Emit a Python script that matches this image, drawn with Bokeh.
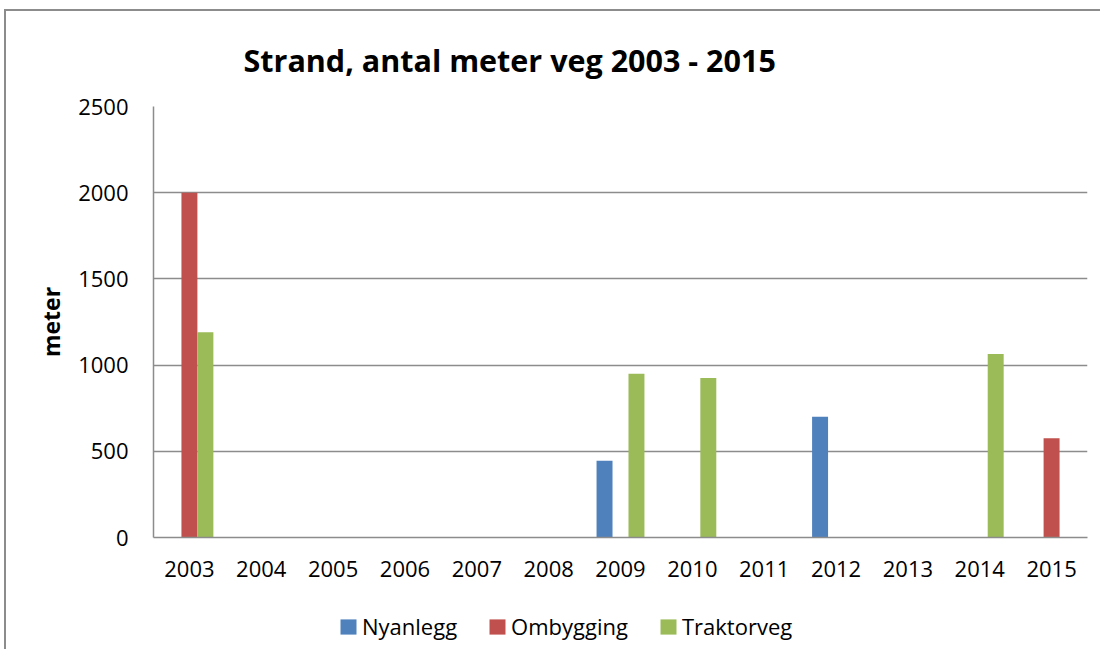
from bokeh.plotting import figure
from bokeh.layouts import column
from bokeh.models import (Legend, LegendItem, FactorRange, Range1d, SingleIntervalTicker,
                          Title, ColumnDataSource)
from bokeh.transform import dodge
from bokeh.embed import file_html
from bokeh.resources import INLINE

years = ["2003", "2004", "2005", "2006", "2007", "2008", "2009",
         "2010", "2011", "2012", "2013", "2014", "2015"]
nyanlegg = [0, 0, 0, 0, 0, 0, 445, 0, 0, 700, 0, 0, 0]
ombygging = [2000, 0, 0, 0, 0, 0, 0, 0, 0, 0, 0, 0, 575]
traktorveg = [1190, 0, 0, 0, 0, 0, 950, 925, 0, 0, 0, 1065, 0]
series_names = ["Nyanlegg", "Ombygging", "Traktorveg"]
colors = ["#4F81BD", "#C0504D", "#9BBB59"]
title_text = "Strand, antal meter veg 2003 - 2015"
y_label = "meter"

src = ColumnDataSource(dict(years=years, Nyanlegg=nyanlegg,
                            Ombygging=ombygging, Traktorveg=traktorveg))

FONT = "Open Sans"
GRID = "#8c8c8c"

# content origin assumed at (6, 11): 4/9 margin + 2px border
p = figure(x_range=FactorRange(*years, range_padding=0),
           y_range=Range1d(0, 2500),
           width=1094, height=587, output_backend="svg",
           toolbar_location=None,
           min_border_left=147, min_border_right=13,
           min_border_top=95, min_border_bottom=61)

p.title = Title(text=title_text, align="left", offset=90, standoff=51,
                text_font=FONT, text_font_size="30.5px", text_font_style="bold",
                text_color="black")

bw = 1 / 4.5
offsets = [-bw, 0, bw]
for name, col, off in zip(series_names, colors, offsets):
    p.vbar(x=dodge("years", off, range=p.x_range), top=name, width=bw,
           source=src, fill_color=col, line_color=None)

p.outline_line_color = None
p.background_fill_color = "white"
p.border_fill_color = "white"

p.xgrid.grid_line_color = None
p.ygrid.grid_line_color = GRID
p.ygrid.grid_line_width = 1.5
p.yaxis.ticker = SingleIntervalTicker(interval=500)

for ax in (p.xaxis[0], p.yaxis[0]):
    ax.axis_line_color = GRID
    ax.axis_line_width = 1.5
    ax.major_tick_line_color = None
    ax.minor_tick_line_color = None
    ax.major_tick_out = 0
    ax.major_tick_in = 0
    ax.major_label_text_font = FONT
    ax.major_label_text_font_size = "22px"
    ax.major_label_text_color = "black"

p.xaxis.major_label_standoff = 23
p.yaxis.major_label_standoff = 21
p.yaxis.axis_label = y_label
p.yaxis.axis_label_text_font = FONT
p.yaxis.axis_label_text_font_size = "23px"
p.yaxis.axis_label_text_font_style = "bold"
p.yaxis.axis_label_text_color = "black"
p.yaxis.axis_label_standoff = 8

# legend strip
lg = figure(x_range=Range1d(0, 1), y_range=Range1d(0, 1),
            width=1094, height=51, output_backend="svg", toolbar_location=None,
            min_border=0)
lg.axis.visible = False
lg.grid.grid_line_color = None
lg.outline_line_color = None
dummy = ColumnDataSource(dict(xs=[[-10.0, -9.0, -9.0]], ys=[[0.0, 0.0, 1.0]]))
leg_renderers = [lg.patches(xs="xs", ys="ys", source=dummy,
                            fill_color=c, line_color=None) for c in colors]
legend = Legend(items=[LegendItem(label=n, renderers=[r])
                       for n, r in zip(series_names, leg_renderers)],
                orientation="horizontal", location=(185, 8),
                glyph_width=20, glyph_height=19, label_standoff=4, spacing=30,
                padding=0, margin=0, border_line_color=None,
                background_fill_alpha=0,
                label_text_font=FONT, label_text_font_size="22px",
                label_text_color="black")
lg.add_layout(legend, "center")

layout = column(p, lg, spacing=0)
layout.styles = {"border-left": "2px solid #8c8c8c", "border-top": "2px solid #8c8c8c",
                 "margin-left": "4px", "margin-top": "9px"}

open("out.html", "w").write(file_html(layout, INLINE))
